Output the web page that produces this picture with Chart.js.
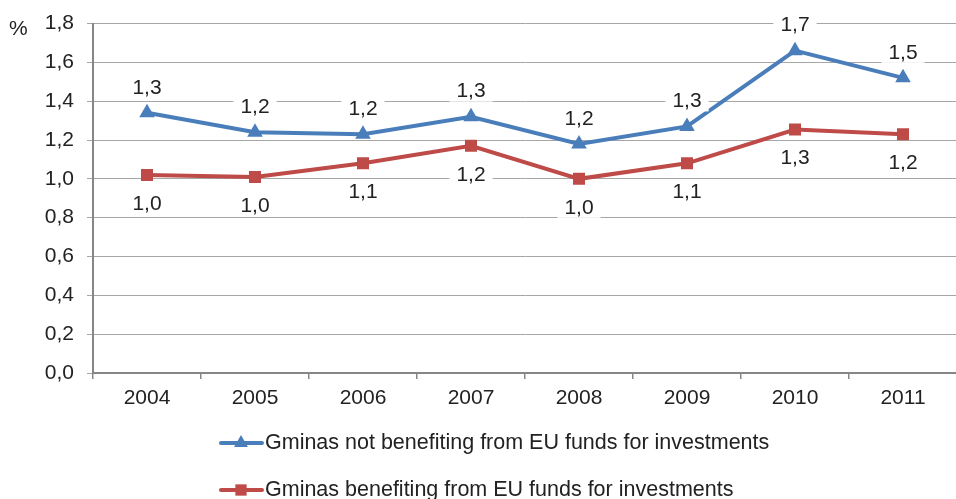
<!DOCTYPE html>
<html>
<head>
    <title></title>
    <script src="https://cdn.jsdelivr.net/npm/chart.js@4.4.0/dist/chart.umd.min.js"></script>
    <style>
        body { margin: 0; overflow: hidden; background: #fff; }
    </style>
</head>
<body>
    <canvas id="myChart" width="966" height="499"></canvas>
    <script>
        var years = ['2004', '2005', '2006', '2007', '2008', '2009', '2010', '2011'];
        var notBenefiting = [1.34, 1.24, 1.23, 1.32, 1.18, 1.27, 1.66, 1.52];
        var benefiting = [1.02, 1.01, 1.08, 1.17, 1.00, 1.08, 1.254, 1.23];
        var seriesNames = ['Gminas not benefiting from EU funds for investments',
                           'Gminas benefiting from EU funds for investments'];
        var unitLabel = '%';

        var FONT = '"Liberation Sans", Arial, sans-serif';
        var TXT = '#222';
        var BLUE = '#4A7EBB';
        var RED = '#BE4B48';

        function fmt(v) { return v.toFixed(1).replace('.', ','); }

        function marker(ctx, style, x, y, r, color) {
            ctx.fillStyle = color;
            ctx.beginPath();
            if (style == 'triangle') {
                ctx.moveTo(x, y - r);
                ctx.lineTo(x + r * 0.866, y + r * 0.5);
                ctx.lineTo(x - r * 0.866, y + r * 0.5);
                ctx.closePath();
            } else {
                var s = r * Math.SQRT1_2;
                ctx.rect(x - s, y - s, 2 * s, 2 * s);
            }
            ctx.fill();
        }

        // value labels with white boxes, "%" unit and the two-row legend
        var extras = {
            id: 'extras',
            afterDatasetsDraw: function(chart) {
                var ctx = chart.ctx;
                ctx.save();
                ctx.font = '21px ' + FONT;
                ctx.textAlign = 'center';
                ctx.textBaseline = 'middle';
                chart.data.datasets.forEach(function(ds, i) {
                    var meta = chart.getDatasetMeta(i);
                    meta.data.forEach(function(pt, j) {
                        var txt = fmt(ds.data[j]);
                        var y = i == 0 ? pt.y - 26 : pt.y + 28;
                        var w = ctx.measureText(txt).width + 14;
                        ctx.fillStyle = '#fff';
                        ctx.fillRect(pt.x - w / 2, y - 11, w, 22);
                        ctx.fillStyle = TXT;
                        ctx.fillText(txt, pt.x, y + 1);
                    });
                });
                ctx.restore();
            },
            afterDraw: function(chart) {
                var ctx = chart.ctx;
                var area = chart.chartArea;
                ctx.save();
                ctx.font = '21px ' + FONT;
                ctx.fillStyle = TXT;
                ctx.textBaseline = 'middle';
                ctx.textAlign = 'left';
                ctx.fillText(unitLabel, 9, 29);

                ctx.font = '21.5px ' + FONT;
                chart.data.datasets.forEach(function(ds, i) {
                    var y = area.bottom + 70 + i * 47;
                    ctx.strokeStyle = ds.borderColor;
                    ctx.lineWidth = 4;
                    ctx.lineCap = 'round';
                    ctx.beginPath();
                    ctx.moveTo(221, y);
                    ctx.lineTo(262, y);
                    ctx.stroke();
                    marker(ctx, ds.pointStyle, 241, y, 8, ds.borderColor);
                    ctx.fillStyle = TXT;
                    ctx.fillText(ds.label, 265, y);
                });
                ctx.restore();
            }
        };

        var chart = new Chart(document.getElementById('myChart'), {
            type: 'line',
            data: {
                labels: years,
                datasets: [{
                    label: seriesNames[0],
                    data: notBenefiting,
                    borderColor: BLUE,
                    backgroundColor: BLUE,
                    borderWidth: 4,
                    pointStyle: 'triangle',
                    pointRadius: 9,
                    pointBorderWidth: 0,
                    tension: 0
                }, {
                    label: seriesNames[1],
                    data: benefiting,
                    borderColor: RED,
                    backgroundColor: RED,
                    borderWidth: 4,
                    pointStyle: 'rect',
                    pointRadius: 8.5,
                    pointBorderWidth: 0,
                    tension: 0
                }]
            },
            options: {
                responsive: false,
                animation: false,
                layout: { padding: { top: 22, right: 3, bottom: 86, left: 0 } },
                plugins: { legend: { display: false }, tooltip: { enabled: false } },
                scales: {
                    x: {
                        offset: true,
                        grid: { offset: true, drawOnChartArea: false, drawTicks: true, tickLength: 6, color: '#868686', lineWidth: 1.5 },
                        border: { color: '#868686', width: 2 },
                        ticks: { color: TXT, font: { family: FONT, size: 21 }, padding: 7, maxRotation: 0 },
                        afterFit: function(scale) { scale.height = 40; }
                    },
                    y: {
                        min: 0,
                        max: 1.8,
                        grid: { color: '#a6a6a6', lineWidth: 1, tickLength: 6 },
                        border: { color: '#868686', width: 2 },
                        ticks: {
                            stepSize: 0.2,
                            color: TXT,
                            font: { family: FONT, size: 21, lineHeight: 1 },
                            padding: 13,
                            callback: function(v) { return fmt(v); }
                        },
                        afterFit: function(scale) { scale.width = 93; }
                    }
                }
            },
            plugins: [extras]
        });
    </script>
</body>
</html>
